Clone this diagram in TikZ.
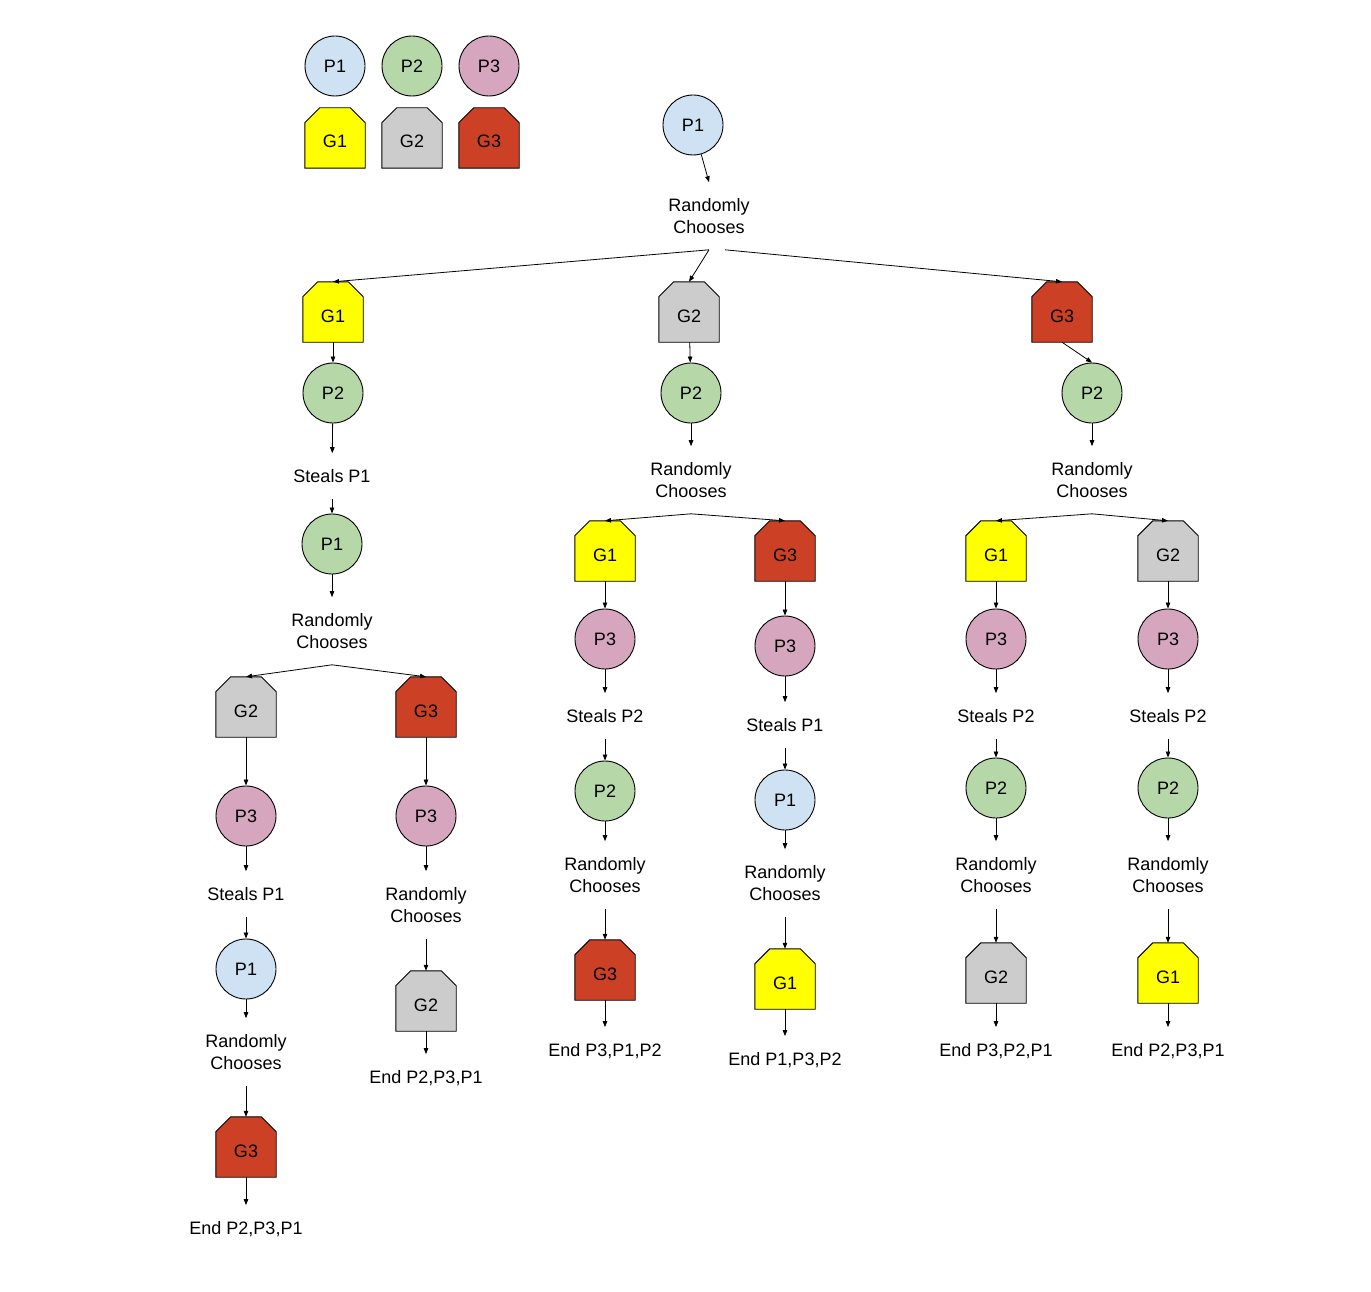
\documentclass[tikz,border=0pt]{standalone}
\usepackage{fontspec}
\setmainfont{Liberation Sans}
\usetikzlibrary{arrows.meta}
\pgfdeclarelayer{back}
\pgfdeclarelayer{bg}
\pgfsetlayers{back,bg,main}
\definecolor{cpone}{HTML}{CFE2F3}
\definecolor{cptwo}{HTML}{B6D7A8}
\definecolor{cpthree}{HTML}{D5A6BD}
\definecolor{cgone}{HTML}{FFFF00}
\definecolor{cgtwo}{HTML}{CCCCCC}
\definecolor{cgthree}{HTML}{CC4125}
\tikzset{
  basefont/.style={font=\fontsize{18}{22}\selectfont},
  pnode/.style={circle, draw, line width=0.9pt, minimum size=60pt, inner sep=0pt, basefont},
  gbox/.style={rectangle, minimum width=60pt, minimum height=60pt, inner sep=0pt, text height=20pt, text depth=0pt, basefont},
  gline/.style={draw, line width=0.9pt, line join=miter},
  lbl/.style={align=center, inner xsep=2pt, inner ysep=16pt, basefont},
  arr/.style={-{Triangle[length=6pt,width=4.5pt]}, line width=0.8pt},
}
\newcommand\gnode[4]{%
  \node[gbox] (#1) at (#2) {#4};
  \begin{pgfonlayer}{bg}
    \filldraw[gline, fill=#3] (#1.south west) -- (#1.south east)
      -- ([yshift=-15pt]#1.north east) -- ([xshift=-15pt]#1.north east)
      -- ([xshift=15pt]#1.north west) -- ([yshift=-15pt]#1.north west) -- cycle;
  \end{pgfonlayer}}
\begin{document}
\begin{tikzpicture}[x=1pt,y=-1pt]
\begin{pgfonlayer}{back}
\fill[white] (0,0) rectangle (1371,1292);
\end{pgfonlayer}
\useasboundingbox (0,0) rectangle (1371,1292);

% legend
\node[pnode, fill=cpone] (lp1) at (335,66) {P1};
\node[pnode, fill=cptwo] (lp2) at (412,66) {P2};
\node[pnode, fill=cpthree] (lp3) at (489,66) {P3};
\gnode{lg1}{335,138}{cgone}{G1}
\gnode{lg2}{412,138}{cgtwo}{G2}
\gnode{lg3}{489,138}{cgthree}{G3}

% root
\node[pnode, fill=cpone] (r) at (693,125) {P1};
\node[lbl] (t0) at (709,216) {Randomly\\Chooses};
\gnode{a}{333,312}{cgone}{G1}
\gnode{b}{689,312}{cgtwo}{G2}
\gnode{c}{1062,312}{cgthree}{G3}
\node[pnode, fill=cptwo] (a1) at (333,393) {P2};
\node[pnode, fill=cptwo] (b1) at (691,393) {P2};
\node[pnode, fill=cptwo] (c1) at (1092,393) {P2};

% left branch
\node[lbl] (a2) at (332,476) {Steals P1};
\node[pnode, fill=cptwo] (a3) at (332,544) {P1};
\node[lbl] (a4) at (332,631) {Randomly\\Chooses};
\gnode{a5}{246,707}{cgtwo}{G2}
\gnode{a6}{426,707}{cgthree}{G3}
\node[pnode, fill=cpthree] (a7) at (246,816) {P3};
\node[lbl] (a8) at (246,894) {Steals P1};
\node[pnode, fill=cpone] (a9) at (246,969) {P1};
\node[lbl] (a10) at (246,1052) {Randomly\\Chooses};
\gnode{a11}{246,1147}{cgthree}{G3}
\node[lbl] (a12) at (246,1229) {End P2,P3,P1};
\node[pnode, fill=cpthree] (a13) at (426,816) {P3};
\node[lbl] (a14) at (426,905) {Randomly\\Chooses};
\gnode{a15}{426,1001}{cgtwo}{G2}
\node[lbl] (a16) at (426,1078) {End P2,P3,P1};

% middle branch
\node[lbl] (b2) at (691,480) {Randomly\\Chooses};
\gnode{b3}{605,551}{cgone}{G1}
\gnode{b4}{785,551}{cgthree}{G3}
\node[pnode, fill=cpthree] (b5) at (605,639) {P3};
\node[lbl] (b6) at (605,716) {Steals P2};
\node[pnode, fill=cptwo] (b7) at (605,791) {P2};
\node[lbl] (b8) at (605,875) {Randomly\\Chooses};
\gnode{b9}{605,970}{cgthree}{G3}
\node[lbl] (b10) at (605,1051) {End P3,P1,P2};
\node[pnode, fill=cpthree] (b11) at (785,646) {P3};
\node[lbl] (b12) at (785,725) {Steals P1};
\node[pnode, fill=cpone] (b13) at (785,800) {P1};
\node[lbl] (b14) at (785,883) {Randomly\\Chooses};
\gnode{b15}{785,979}{cgone}{G1}
\node[lbl] (b16) at (785,1060) {End P1,P3,P2};

% right branch
\node[lbl] (c2) at (1092,480) {Randomly\\Chooses};
\gnode{c3}{996,551}{cgone}{G1}
\gnode{c4}{1168,551}{cgtwo}{G2}
\node[pnode, fill=cpthree] (c5) at (996,639) {P3};
\node[lbl] (c6) at (996,716) {Steals P2};
\node[pnode, fill=cptwo] (c7) at (996,788) {P2};
\node[lbl] (c8) at (996,875) {Randomly\\Chooses};
\gnode{c9}{996,973}{cgtwo}{G2}
\node[lbl] (c10) at (996,1051) {End P3,P2,P1};
\node[pnode, fill=cpthree] (c11) at (1168,639) {P3};
\node[lbl] (c12) at (1168,716) {Steals P2};
\node[pnode, fill=cptwo] (c13) at (1168,788) {P2};
\node[lbl] (c14) at (1168,875) {Randomly\\Chooses};
\gnode{c15}{1168,973}{cgone}{G1}
\node[lbl] (c16) at (1168,1051) {End P2,P3,P1};

% connectors: root
\draw[arr] (r) -- (t0.north);
\draw[arr] (t0.south) -- (a.north);
\draw[arr] (t0.south) -- (b.north);
\draw[arr] ([xshift=16pt]t0.south) -- (c.north);
\draw[arr] (a) -- (a1);
\draw[arr] (b) -- (b1);
\draw[arr] (c.south) -- (c1.north);

% left
\draw[arr] (a1) -- (a2);
\draw[arr] (a2) -- (a3);
\draw[arr] (a3) -- (a4);
\draw[arr] (a4.south) -- (a5.north);
\draw[arr] (a4.south) -- (a6.north);
\draw[arr] (a5) -- (a7);
\draw[arr] (a7) -- (a8);
\draw[arr] (a8) -- (a9);
\draw[arr] (a9) -- (a10);
\draw[arr] (a10) -- (a11);
\draw[arr] (a11) -- (a12);
\draw[arr] (a6) -- (a13);
\draw[arr] (a13) -- (a14);
\draw[arr] (a14) -- (a15);
\draw[arr] (a15) -- (a16);

% middle
\draw[arr] (b1) -- (b2);
\draw[arr] (b2.south) -- (b3.north);
\draw[arr] (b2.south) -- (b4.north);
\draw[arr] (b3) -- (b5);
\draw[arr] (b5) -- (b6);
\draw[arr] (b6) -- (b7);
\draw[arr] (b7) -- (b8);
\draw[arr] (b8) -- (b9);
\draw[arr] (b9) -- (b10);
\draw[arr] (b4) -- (b11);
\draw[arr] (b11) -- (b12);
\draw[arr] (b12) -- (b13);
\draw[arr] (b13) -- (b14);
\draw[arr] (b14) -- (b15);
\draw[arr] (b15) -- (b16);

% right
\draw[arr] (c1) -- (c2);
\draw[arr] (c2.south) -- (c3.north);
\draw[arr] (c2.south) -- (c4.north);
\draw[arr] (c3) -- (c5);
\draw[arr] (c5) -- (c6);
\draw[arr] (c6) -- (c7);
\draw[arr] (c7) -- (c8);
\draw[arr] (c8) -- (c9);
\draw[arr] (c9) -- (c10);
\draw[arr] (c4) -- (c11);
\draw[arr] (c11) -- (c12);
\draw[arr] (c12) -- (c13);
\draw[arr] (c13) -- (c14);
\draw[arr] (c14) -- (c15);
\draw[arr] (c15) -- (c16);
\end{tikzpicture}
\end{document}
